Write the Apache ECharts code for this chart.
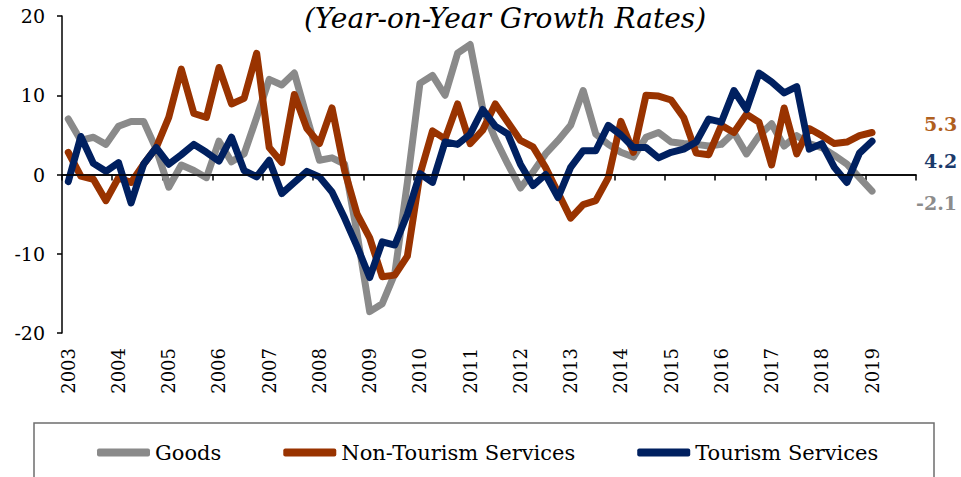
<!DOCTYPE html>
<html>
<head>
<meta charset="utf-8">
<script src="https://cdn.jsdelivr.net/npm/echarts@6/dist/echarts.min.js"></script>
<style>
  html, body { margin: 0; padding: 0; background: #fff; }
  #chart { width: 961px; height: 477px; }
</style>
</head>
<body>
<div id="chart"></div>
<script>
// ---- Data (quarterly, year-on-year growth rates, %) ----
const years = [2003, 2004, 2005, 2006, 2007, 2008, 2009, 2010, 2011, 2012, 2013, 2014, 2015, 2016, 2017, 2018, 2019];
const quarterNames = ['Q1', 'Q2', 'Q3', 'Q4'];
const seriesNames = ['Goods', 'Non-Tourism Services', 'Tourism Services'];

const goods = [
  7.0, 4.3, 4.7, 3.8, 6.1, 6.7, 6.7, 3.2, -1.6, 1.2, 0.5, -0.4, 4.2, 1.6, 2.6, 7.2,
  12.0, 11.3, 12.8, 7.2, 1.8, 2.1, 1.3, -7.5, -17.3, -16.3, -12.5, -1.0, 11.5, 12.5, 10.0, 15.3,
  16.4, 8.3, 4.5, 1.3, -1.7, 0.3, 2.6, 4.3, 6.2, 10.6, 5.1, 3.8, 2.8, 2.2, 4.7, 5.3,
  4.1, 3.9, 3.8, 3.6, 3.8, 5.3, 2.6, 4.9, 6.4, 3.6, 4.9, 3.9, 3.4, 2.4, 1.3, -0.4,
  -2.1
];
const nonTourism = [
  2.8, -0.2, -0.6, -3.3, -0.4, -1.0, 1.3, 3.4, 7.2, 13.3, 7.7, 7.2, 13.5, 8.9, 9.6, 15.3,
  3.4, 1.5, 10.1, 5.8, 3.9, 8.4, 0.5, -5.0, -8.0, -12.9, -12.7, -10.3, 0.0, 5.5, 4.5, 8.9,
  3.9, 5.6, 8.9, 6.6, 4.3, 3.5, 0.9, -2.3, -5.5, -3.8, -3.3, -0.4, 6.7, 2.8, 10.0, 9.9,
  9.4, 7.2, 2.7, 2.5, 6.2, 5.3, 7.6, 6.6, 1.2, 8.4, 2.6, 5.8, 4.9, 3.9, 4.1, 4.9,
  5.3
];
const tourism = [
  -0.9, 4.8, 1.4, 0.4, 1.5, -3.6, 1.3, 3.4, 1.3, 2.5, 3.8, 2.8, 1.7, 4.7, 0.5, -0.3,
  1.8, -2.4, -1.0, 0.4, -0.3, -2.2, -5.5, -9.1, -13.0, -8.5, -8.9, -5.0, 0.1, -1.0, 4.1, 3.8,
  5.1, 8.2, 6.1, 5.1, 1.3, -1.4, 0.0, -2.9, 0.9, 3.0, 3.0, 6.2, 5.0, 3.4, 3.4, 2.1,
  2.8, 3.2, 4.1, 7.0, 6.6, 10.6, 8.2, 12.8, 11.7, 10.3, 11.1, 3.2, 3.9, 0.9, -1.0, 2.7,
  4.2
];
const yTicks = { min: -20, max: 20, interval: 10 };

// ---- Build categories ----
const quarters = [];
years.forEach(y => quarterNames.forEach(q => quarters.push(y + q)));

const FONT = 'DejaVu Serif';
const colors = { goods: '#8a8a8a', non: '#993300', tour: '#002060' };
const labelColors = { goods: '#8c8c8c', non: '#b0601e', tour: '#1b3a6b' };
const LW = 7;

function endLabel(color, offset) {
  return {
    show: true,
    formatter: p => Number(p.value).toFixed(1),
    color: color,
    fontFamily: FONT,
    fontWeight: 'bold',
    fontSize: 19,
    distance: 0,
    offset: offset
  };
}

const chart = echarts.init(document.getElementById('chart'), null, { renderer: 'svg' });
chart.setOption({
  animation: false,
  backgroundColor: '#ffffff',
  title: {
    text: '(Year-on-Year Growth Rates)',
    left: 500,
    top: -1,
    textAlign: 'center',
    textStyle: { fontFamily: FONT, fontStyle: 'italic', fontWeight: 'normal', fontSize: 28, color: '#000' }
  },
  grid: { left: 62, right: 45, top: 16, bottom: 144, containLabel: false },
  legend: {
    data: seriesNames,
    left: 92,
    top: 437,
    itemGap: 62,
    itemWidth: 53,
    itemHeight: 8,
    icon: 'roundRect',
    textStyle: { fontFamily: FONT, fontSize: 21, color: '#000' }
  },
  graphic: [{
    type: 'rect',
    shape: { x: 34, y: 423, width: 900, height: 80 },
    style: { fill: 'none', stroke: '#6e6e6e', lineWidth: 1.5 },
    silent: true
  }],
  xAxis: {
    type: 'category',
    data: quarters,
    boundaryGap: true,
    axisLine: { show: true, lineStyle: { color: '#000', width: 1.5 } },
    axisTick: { show: true, interval: 3, length: 6, lineStyle: { color: '#000', width: 1.5 } },
    axisLabel: {
      show: true,
      interval: 3,
      rotate: 90,
      margin: 15,
      formatter: function (v) { return String(v).slice(0, 4); },
      fontFamily: FONT,
      fontSize: 18,
      color: '#000'
    },
    splitLine: { show: false }
  },
  yAxis: {
    type: 'value',
    min: yTicks.min,
    max: yTicks.max,
    interval: yTicks.interval,
    axisLine: { show: true, lineStyle: { color: '#000', width: 1.5 } },
    axisTick: { show: true, length: 5, lineStyle: { color: '#000', width: 1.5 } },
    axisLabel: { fontFamily: FONT, fontSize: 19, color: '#000', margin: 17 },
    splitLine: { show: false }
  },
  series: [
    {
      name: 'Goods', type: 'line', data: goods, symbol: 'none',
      lineStyle: { color: colors.goods, width: LW, join: 'round', cap: 'round' },
      itemStyle: { color: colors.goods },
      endLabel: endLabel(labelColors.goods, [44, 12])
    },
    {
      name: 'Non-Tourism Services', type: 'line', data: nonTourism, symbol: 'none',
      lineStyle: { color: colors.non, width: LW, join: 'round', cap: 'round' },
      itemStyle: { color: colors.non },
      endLabel: endLabel(labelColors.non, [52, -8])
    },
    {
      name: 'Tourism Services', type: 'line', data: tourism, symbol: 'none',
      lineStyle: { color: colors.tour, width: LW, join: 'round', cap: 'round' },
      itemStyle: { color: colors.tour },
      endLabel: endLabel(labelColors.tour, [52, 20])
    },
    {
      name: 'zero', type: 'line', data: [], z: 10, silent: true,
      markLine: {
        silent: true, symbol: 'none', label: { show: false },
        lineStyle: { color: '#000', width: 1.5, type: 'solid' },
        data: [{ yAxis: 0 }]
      }
    }
  ]
});
</script>
</body>
</html>
